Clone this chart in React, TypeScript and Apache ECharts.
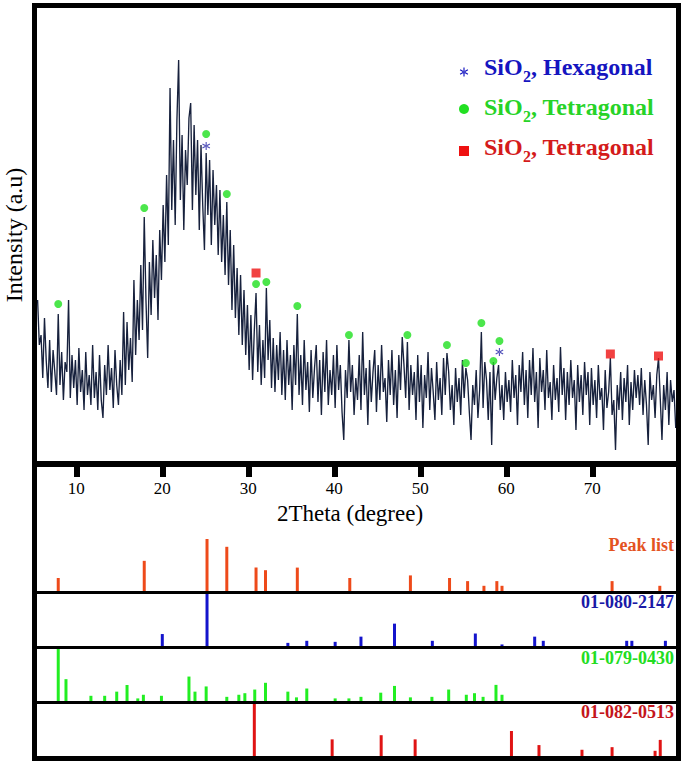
import { useEffect, useRef } from "react";
import * as echarts from "echarts";

// ---------- data ----------
const TWO_THETA_START = 5.5;
const TWO_THETA_STEP = 0.2;
// intensity (a.u.), one row per degree
const INTENSITY: number[] = [
  161, 116, 126,
  83, 143, 101, 73, 121,
  69, 111, 89, 66, 147,
  76, 109, 61, 99, 89,
  161, 63, 106, 73, 101,
  56, 113, 69, 91, 51,
  109, 66, 86, 56, 116,
  63, 89, 51, 106, 61,
  43, 96, 66, 116, 71,
  93, 53, 111, 76, 56,
  101, 66, 149, 76, 139,
  91, 123, 79, 181, 106,
  161, 121, 196, 131, 244,
  161, 103, 199, 146, 221,
  163, 206, 141, 231, 181,
  256, 199, 286, 216, 373,
  251, 321, 236, 341, 401,
  261, 326, 231, 311, 276,
  343, 358, 251, 336, 266,
  321, 231, 316, 256, 211,
  308, 246, 301, 216, 291,
  236, 276, 206, 271, 199,
  246, 186, 259, 176, 231,
  151, 216, 143, 193, 126,
  186, 116, 171, 106, 156,
  91, 146, 81, 131, 168,
  89, 136, 76, 121, 83,
  173, 101, 141, 73, 123,
  69, 116, 81, 129, 66,
  111, 61, 121, 76, 106,
  51, 116, 76, 147, 66,
  106, 56, 121, 71, 99,
  49, 111, 63, 93, 116,
  59, 101, 46, 109, 69,
  121, 56, 91, 66, 106,
  53, 116, 71, 96, 49,
  21, 91, 63, 121, 69,
  96, 46, 83, 61, 106,
  51, 129, 66, 93, 36,
  101, 59, 89, 111, 49,
  96, 61, 116, 69, 83,
  39, 101, 66, 111, 56,
  91, 43, 106, 71, 124,
  96, 63, 119, 51, 96,
  66, 89, 41, 106, 59,
  96, 33, 86, 63, 109,
  51, 93, 69, 41, 99,
  61, 83, 46, 103, 66,
  108, 89, 51, 76, 36,
  93, 59, 83, 46, 101,
  63, 93, 81, 49, 21,
  76, 56, 91, 43, 71,
  129, 53, 99, 81, 41,
  89, 16, 99, 61, 83,
  96, 51, 76, 41, 89,
  59, 81, 49, 101, 63,
  86, 36, 96, 69, 109,
  56, 91, 43, 101, 66,
  113, 59, 89, 33, 103,
  69, 91, 51, 111, 63,
  79, 41, 96, 61, 83,
  49, 114, 66, 93, 41,
  89, 56, 101, 63, 81,
  31, 96, 59, 86, 46,
  99, 66, 89, 36, 93,
  56, 81, 43, 96, 61,
  73, 31, 91, 53, 69,
  103, 46, 61, 11, 76,
  51, 89, 41, 83, 59,
  96, 36, 79, 51, 91,
  63, 86, 56, 93, 46,
  81, 56, 16, 89, 61,
  76, 43, 86, 103, 63,
  21, 76, 51, 89, 36,
  81, 59, 71, 33, 46,
];

const X_TICKS = [10, 20, 30, 40, 50, 60, 70];

// phase markers [2theta, intensity]
const GREEN_MARKS = [
  [7.9, 157], [17.9, 253], [25.1, 327], [27.5, 267], [30.9, 177], [32.1, 179],
  [35.7, 155], [41.7, 126], [48.5, 126], [53.1, 116], [55.3, 98], [57.1, 138],
  [58.5, 100], [59.2, 120],
];
const BLUE_MARKS = [[25.1, 315], [59.2, 109]];
const RED_MARKS = [[30.9, 188], [72.1, 107], [77.7, 105]];

// stick patterns [2theta, relative intensity %]
const PEAK_LIST = [
  [7.9, 25], [17.9, 58], [25.2, 100], [27.5, 85], [30.9, 45], [32.0, 40],
  [35.7, 45], [41.8, 25], [48.85, 30], [53.4, 25], [55.5, 19], [57.4, 10],
  [58.9, 19], [59.5, 10], [72.3, 19], [77.85, 10],
];
const REF_2147 = [
  [20.0, 23], [25.2, 100], [34.6, 6], [36.8, 10], [40.1, 8], [43.1, 18],
  [47.0, 43], [51.4, 10], [56.4, 24], [59.5, 3], [63.3, 18], [64.3, 10],
  [74.0, 10], [74.6, 10], [78.5, 10],
];
const REF_0430 = [
  [7.9, 100], [8.8, 42], [11.7, 10], [13.3, 10], [14.7, 18], [15.9, 31],
  [17.15, 5], [17.8, 12], [19.9, 10], [23.1, 47], [23.8, 18], [25.1, 28],
  [27.5, 8], [28.9, 12], [29.6, 15], [30.75, 22], [32.0, 35], [34.6, 18],
  [35.6, 7], [36.8, 24], [40.1, 5], [41.7, 5], [43.1, 8], [45.4, 16],
  [47.0, 29], [48.85, 7], [51.35, 8], [53.3, 22], [55.35, 12], [56.3, 15],
  [57.3, 8], [58.8, 31], [59.5, 12],
];
const REF_0513 = [
  [30.7, 100], [39.75, 32], [45.45, 40], [49.4, 32], [60.6, 48], [63.8, 21],
  [68.8, 12], [72.3, 17], [77.3, 10], [77.9, 31],
];

const LEGEND_PHASES = ["Hexagonal", "Tetragonal", "Tetragonal"];
const PANEL_LABELS = ["Peak list", "01-080-2147", "01-079-0430", "01-082-0513"];
const X_TITLE = "2Theta (degree)";
const Y_TITLE = "Intensity (a.u)";

// ---------- styling ----------
const FONT = "'Liberation Serif', 'Times New Roman', serif";
const GRID_LEFT = 33.3;
const GRID_WIDTH = 645;
const ASTERISK_D =
  "M-1.3,-10L1.3,-10L1.3,10L-1.3,10Z" +
  "M8,6.1L9.3,3.9L-8,-6.1L-9.3,-3.9Z" +
  "M-9.3,3.9L-8,6.1L9.3,-3.9L8,-6.1Z";

let registered = false;
function registerShapes() {
  if (registered) return;
  registered = true;
  echarts.graphic.registerShape("asterisk", echarts.graphic.extendPath(ASTERISK_D, {}));
}

export default function App() {
  const ref = useRef<HTMLDivElement>(null);

  useEffect(() => {
    if (!ref.current) return;
    registerShapes();
    const chart = echarts.init(ref.current, undefined, { renderer: "svg" });

    const panelTops = [539, 594, 649, 704];
    const panelColors = ["#ee4a1a", "#1414cc", "#22ee22", "#e01414"];
    const labelColors = ["#e4531f", "#1a1aa6", "#22dd22", "#c4161c"];
    const panelData = [PEAK_LIST, REF_2147, REF_0430, REF_0513];
    const labelY = [545, 602, 658, 712];

    const grids: any[] = [{ left: GRID_LEFT, width: GRID_WIDTH, top: 8, height: 453 }];
    panelTops.forEach((t) => grids.push({ left: GRID_LEFT, width: GRID_WIDTH, top: t, height: 52 }));

    const xAxes: any[] = [
      {
        type: "value", gridIndex: 0, min: 5, max: 80,
        axisLine: { show: false }, splitLine: { show: false },
        axisTick: { show: true, customValues: X_TICKS, length: 16, lineStyle: { width: 6, color: "#000" } },
        axisLabel: { show: true, customValues: X_TICKS, margin: 19, fontSize: 17, fontFamily: FONT, color: "#000" },
      },
    ];
    const yAxes: any[] = [
      { type: "value", gridIndex: 0, min: 0, max: 453, show: false },
    ];
    for (let i = 1; i <= 4; i++) {
      xAxes.push({ type: "value", gridIndex: i, min: 5, max: 80, show: false });
      yAxes.push({ type: "value", gridIndex: i, min: 0, max: 100, show: false });
    }

    const trace = INTENSITY.map((v, i) => [
      +(TWO_THETA_START + i * TWO_THETA_STEP).toFixed(2), v,
    ]);

    const series: any[] = [
      {
        type: "line", xAxisIndex: 0, yAxisIndex: 0, data: trace, symbol: "none",
        lineStyle: { color: "#17213d", width: 1.35 }, z: 2,
      },
      {
        type: "scatter", xAxisIndex: 0, yAxisIndex: 0, data: GREEN_MARKS,
        symbol: "circle", symbolSize: 8, itemStyle: { color: "#1fe01f" }, z: 3,
      },
      {
        type: "scatter", xAxisIndex: 0, yAxisIndex: 0, data: BLUE_MARKS,
        symbol: "path://" + ASTERISK_D, symbolSize: 8, itemStyle: { color: "#2424a8" }, z: 3,
      },
      {
        type: "scatter", xAxisIndex: 0, yAxisIndex: 0, data: RED_MARKS,
        symbol: "rect", symbolSize: 9, itemStyle: { color: "#ee1111" }, z: 3,
      },
    ];
    panelData.forEach((d, i) => {
      series.push({
        type: "bar", xAxisIndex: i + 1, yAxisIndex: i + 1, data: d,
        barWidth: 3, itemStyle: { color: panelColors[i] }, z: 2,
      });
    });

    const black = { fill: "#000" };
    const graphic: any[] = [
      { type: "rect", z: 100, shape: { x: 32, y: 3, width: 649, height: 5 }, style: black },
      { type: "rect", z: 100, shape: { x: 32, y: 3, width: 5, height: 758 }, style: black },
      { type: "rect", z: 100, shape: { x: 676, y: 3, width: 5, height: 758 }, style: black },
      { type: "rect", z: 100, shape: { x: 32, y: 756, width: 649, height: 5 }, style: black },
      { type: "rect", z: 100, shape: { x: 32, y: 461, width: 649, height: 6 }, style: black },
      { type: "rect", z: 100, shape: { x: 32, y: 591, width: 649, height: 3 }, style: black },
      { type: "rect", z: 100, shape: { x: 32, y: 646, width: 649, height: 3 }, style: black },
      { type: "rect", z: 100, shape: { x: 32, y: 701, width: 649, height: 3 }, style: black },
      {
        type: "text", z: 100, x: 350, y: 513,
        style: { text: X_TITLE, fontSize: 23, fontFamily: FONT, fill: "#000", align: "center", verticalAlign: "middle" },
      },
      {
        type: "text", z: 100, x: 14, y: 235, rotation: Math.PI / 2,
        style: { text: Y_TITLE, fontSize: 24, fontFamily: FONT, fill: "#000", align: "center", verticalAlign: "middle" },
      },
    ];

    PANEL_LABELS.forEach((t, i) => {
      graphic.push({
        type: "text", z: 100, x: 674, y: labelY[i],
        style: { text: t, fontSize: 18, fontWeight: "bold", fontFamily: FONT, fill: labelColors[i], align: "right", verticalAlign: "middle" },
      });
    });

    const legendColors = ["#1515c0", "#27d327", "#d41b1b"];
    const legendY = [67, 107, 147];
    LEGEND_PHASES.forEach((p, i) => {
      const c = legendColors[i];
      const y = legendY[i];
      graphic.push({
        type: "text", z: 100, x: 484, y,
        style: { text: "SiO", fontSize: 24, fontWeight: "bold", fontFamily: FONT, fill: c, align: "left", verticalAlign: "middle" },
      });
      graphic.push({
        type: "text", z: 100, x: 523, y: y + 9,
        style: { text: "2", fontSize: 16, fontWeight: "bold", fontFamily: FONT, fill: c, align: "left", verticalAlign: "middle" },
      });
      graphic.push({
        type: "text", z: 100, x: 531, y,
        style: { text: ", " + p, fontSize: 24, fontWeight: "bold", fontFamily: FONT, fill: c, align: "left", verticalAlign: "middle" },
      });
    });
    graphic.push({ type: "asterisk", z: 100, x: 464, y: 72, scaleX: 0.45, scaleY: 0.45, style: { fill: legendColors[0] } });
    graphic.push({ type: "circle", z: 100, shape: { cx: 464, cy: 109, r: 5 }, style: { fill: "#22e022" } });
    graphic.push({ type: "rect", z: 100, shape: { x: 459, y: 146, width: 10, height: 10 }, style: { fill: "#ee1111" } });

    chart.setOption({
      animation: false,
      backgroundColor: "#fff",
      grid: grids,
      xAxis: xAxes,
      yAxis: yAxes,
      series,
      graphic,
    });

    return () => chart.dispose();
  }, []);

  return (
    <div
      ref={ref}
      style={{ position: "fixed", left: 0, top: 0, width: 685, height: 764, background: "#fff" }}
    />
  );
}
